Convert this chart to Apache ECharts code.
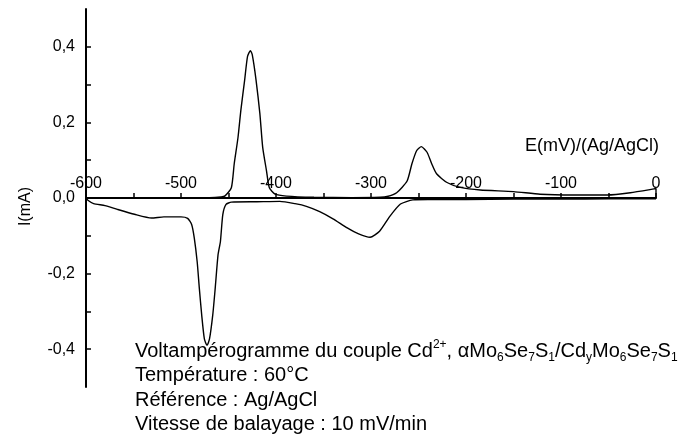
<!DOCTYPE html>
<html>
<head>
<meta charset="utf-8">
<script src="https://cdn.jsdelivr.net/npm/echarts@6/dist/echarts.min.js"></script>
<style>
html,body{margin:0;padding:0;background:#fff;}
#chart{width:691px;height:443px;}
</style>
</head>
<body>
<div id="chart"></div>
<script>
// Cathodic branch (from 0 mV toward -600 mV)
var cathodicE = [0, -50, -100, -150, -200, -240, -256, -269, -280, -291, -301, -313, -325, -340, -354, -368, -380, -396, -420, -447, -452.6, -456, -458.5, -461, -464, -466.6, -470, -472.6, -475.4, -478.2, -480.7, -483, -486, -488.8, -493, -500, -518, -531, -549, -567, -580, -592, -598, -600];
var cathodicI = [-0.002, -0.002, -0.003, -0.003, -0.004, -0.004, -0.005, -0.016, -0.048, -0.088, -0.104, -0.095, -0.079, -0.055, -0.036, -0.022, -0.015, -0.009, -0.010, -0.011, -0.017, -0.044, -0.115, -0.150, -0.239, -0.310, -0.373, -0.390, -0.373, -0.310, -0.239, -0.168, -0.106, -0.070, -0.054, -0.050, -0.050, -0.053, -0.043, -0.030, -0.020, -0.015, -0.006, 0.0];
// Anodic branch (from -600 mV back to 0 mV)
var anodicE = [-600, -560, -500, -470, -458, -454, -447, -444, -440, -437, -433, -430, -427, -425, -421, -417, -414, -410, -407, -401, -389, -360, -320, -290, -283, -273, -262, -257, -252, -247, -241, -236, -231, -220, -206, -185, -150, -122, -87, -51, -27, -2, 0, 0];
var anodicI = [0.0, 0.0, 0.0, 0.001, 0.003, 0.005, 0.027, 0.090, 0.160, 0.232, 0.312, 0.374, 0.390, 0.379, 0.312, 0.224, 0.134, 0.072, 0.027, 0.010, 0.005, 0.002, 0.001, 0.002, 0.004, 0.014, 0.045, 0.090, 0.125, 0.136, 0.121, 0.090, 0.064, 0.041, 0.028, 0.021, 0.017, 0.010, 0.008, 0.008, 0.014, 0.024, 0.025, 0.0];

var xAxisName = 'E(mV)/(Ag/AgCl)';
var yAxisName = 'I(mA)';
var captionLines = [
  'Voltampérogramme du couple Cd{sup|2+}, αMo{sub|6}Se{sub|7}S{sub|1}/Cd{sub|y}Mo{sub|6}Se{sub|7}S{sub|1}',
  'Température : 60°C',
  'Référence : Ag/AgCl',
  'Vitesse de balayage : 10 mV/min'
];

var loop = [];
for (var i = 0; i < cathodicE.length; i++) loop.push([cathodicE[i], cathodicI[i]]);
for (var j = 0; j < anodicE.length; j++) loop.push([anodicE[j], anodicI[j]]);

var FONT = '"Liberation Sans", Arial, sans-serif';
var chart = echarts.init(document.getElementById('chart'), null, {renderer: 'canvas'});
chart.setOption({
  animation: false,
  backgroundColor: '#ffffff',
  title: {
    left: 130,
    top: 334,
    text: captionLines.join('\n'),
    textStyle: {
      fontFamily: FONT, fontSize: 20, fontWeight: 'normal', color: '#000', lineHeight: 24.5,
      rich: {
        sup: {fontFamily: FONT, fontSize: 12, color: '#000', verticalAlign: 'top', lineHeight: 14},
        sub: {fontFamily: FONT, fontSize: 12, color: '#000', verticalAlign: 'bottom', lineHeight: 12}
      }
    }
  },
  graphic: [
    {type: 'text', left: 525, top: 137, silent: true,
     style: {text: xAxisName, fontFamily: FONT, fontSize: 18, fill: '#000'}},
    {type: 'text', left: 18, top: 187, rotation: Math.PI / 2, silent: true,
     style: {text: yAxisName, fontFamily: FONT, fontSize: 16, fill: '#000'}}
  ],
  grid: {left: 86, right: 35, top: 9, bottom: 56, outerBoundsMode: 'none', containLabel: false},
  xAxis: {
    type: 'value',
    position: 'top',
    offset: -189,
    min: -600, max: 0, interval: 50,
    axisLine: {onZero: false, lineStyle: {color: '#000', width: 2}},
    axisTick: {show: true, inside: false, length: 5, lineStyle: {color: '#000', width: 1.5}},
    axisLabel: {
      margin: 6, fontFamily: FONT, fontSize: 16, color: '#000',
      formatter: function (v) { return (Math.round(v) % 100 === 0) ? String(Math.round(v)) : ''; }
    },
    splitLine: {show: false}
  },
  yAxis: {
    type: 'value',
    min: -0.5, max: 0.5, interval: 0.1,
    axisLine: {onZero: false, lineStyle: {color: '#000', width: 2}},
    axisTick: {show: true, inside: true, length: 5, lineStyle: {color: '#000', width: 1.5}},
    axisLabel: {
      margin: 11, fontFamily: FONT, fontSize: 16, color: '#000',
      showMinLabel: false, showMaxLabel: false,
      formatter: function (v) {
        var k = Math.round(v * 10);
        if (k % 2 !== 0 || Math.abs(k) >= 5) return '';
        return (k / 10).toFixed(1).replace('.', ',').replace('-0,0', '0,0');
      }
    },
    splitLine: {show: false}
  },
  series: [{
    type: 'line',
    data: loop,
    showSymbol: false,
    smooth: 0.2,
    lineStyle: {color: '#000', width: 1.4},
    z: 1
  }]
});
</script>
</body>
</html>
